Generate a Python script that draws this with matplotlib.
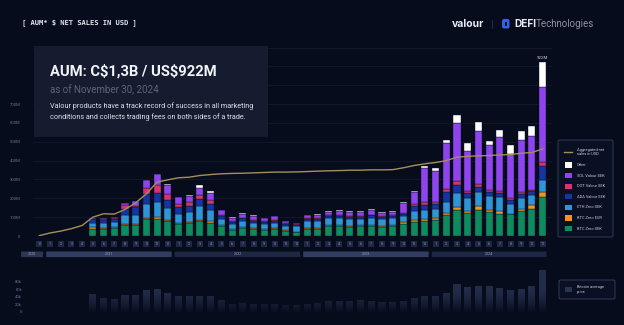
import numpy as np
import matplotlib.pyplot as plt
from matplotlib.patches import FancyBboxPatch, Rectangle

W, H = 624, 325
BG = '#070c1c'
plt.rcParams['font.family'] = ['Roboto', 'DejaVu Sans']
plt.rcParams['text.parse_math'] = False

# ---- data ----
years = [2020, 2021, 2022, 2023, 2024]
months_per_year = [[12], list(range(1, 13)), list(range(1, 13)),
                   list(range(1, 13)), list(range(1, 12))]
month_labels = [str(m) for ms in months_per_year for m in ms]
first_bar = 5  # bars start in May 2021

series_names = ['BTC Zero SEK', 'BTC Zero EUR', 'ETH Zero SEK', 'ADA Valour SEK',
                'DOT Valour SEK', 'SOL Valour SEK', 'Other']
series_colors = ['#0e8c60', '#f0961e', '#2e95d6', '#1634a2', '#d6336f', '#8f45ee', '#ffffff']

btc_zero_sek = [39, 39, 44, 60, 60, 88, 92, 78,
                65, 69, 78, 71, 53, 34, 42, 37, 34, 37, 26, 19,
                37, 37, 53, 53, 48, 51, 53, 48, 51, 65, 74, 79,
                83, 109, 136, 123, 139, 127, 118, 115, 130, 145, 206]
btc_zero_eur = [7, 5, 5, 4, 5, 7, 7, 7,
                5, 5, 7, 7, 5, 4, 5, 5, 4, 4, 4, 4,
                5, 5, 5, 5, 5, 5, 7, 5, 5, 7, 10, 9,
                10, 14, 18, 12, 18, 11, 14, 4, 14, 18, 30]
eth_zero_sek = [23, 25, 26, 46, 44, 76, 79, 63,
                48, 53, 72, 62, 34, 25, 34, 28, 25, 28, 25, 28,
                35, 37, 35, 37, 37, 35, 37, 35, 37, 34, 51, 51,
                48, 60, 76, 65, 76, 72, 76, 53, 56, 53, 63]
ada_valour_sek = [19, 18, 16, 35, 44, 53, 51, 44,
                  35, 32, 41, 32, 14, 12, 12, 12, 12, 12, 9, 7,
                  12, 12, 14, 12, 12, 12, 12, 12, 12, 12, 26, 28,
                  28, 49, 39, 26, 28, 23, 21, 18, 25, 21, 71]
dot_valour_sek = [2, 3, 5, 19, 7, 30, 44, 32,
                  18, 19, 21, 21, 7, 5, 5, 5, 5, 5, 5, 4,
                  5, 5, 5, 7, 5, 5, 5, 5, 5, 5, 8, 16,
                  14, 18, 21, 12, 14, 12, 11, 9, 11, 9, 25]
sol_valour_sek = [5, 5, 7, 12, 25, 44, 56, 49,
                  35, 34, 37, 35, 23, 18, 21, 18, 14, 18, 9, 7,
                  16, 18, 14, 21, 19, 21, 26, 18, 19, 53, 63, 176,
                  164, 243, 309, 213, 284, 238, 287, 236, 273, 287, 393]
other = [0, 0, 0, 0, 0, 0, 0, 4,
         0, 3, 12, 10, 3, 3, 4, 4, 3, 4, 3, 2,
         4, 4, 4, 4, 4, 4, 4, 4, 4, 7, 9, 14,
         14, 18, 44, 44, 48, 23, 37, 49, 49, 51, 134]

aggregated = [2, 16, 26, 39, 56, 100, 118, 116, 141, 176, 224, 286, 298,
              309, 312, 321, 326, 330, 332, 333, 335, 337, 339, 339, 340,
              342, 344, 346, 347, 349, 349, 351, 351, 352, 362, 374, 383,
              390, 400, 418, 423, 425, 427, 430, 432, 439, 443, 462]

btc_price = [46, 36, 34, 44, 45, 57, 60, 49,
             41, 41, 42, 41, 31, 20, 23, 20, 20, 20, 18, 17,
             20, 23, 28, 29, 28, 30, 29, 27, 27, 29, 36, 42,
             42, 50, 73, 67, 69, 69, 62, 58, 60, 68, 111]

series = [btc_zero_sek, btc_zero_eur, eth_zero_sek, ada_valour_sek,
          dot_valour_sek, sol_valour_sek, other]

# ---- layout helpers (pixel -> figure fraction) ----
X0, STEP = 39.3, 10.71
Y0, PPM = 236.0, 0.1885  # px of zero, px per M
AX_L, AX_R, AX_T = 33, 552, 45

def xlim_for(l, r):
    return ((l - X0) / STEP, (r - X0) / STEP)

fig = plt.figure(figsize=(W / 100, H / 100), dpi=100, facecolor=BG)

# ---- main chart ----
ax = fig.add_axes([AX_L / W, 1 - Y0 / H, (AX_R - AX_L) / W, (Y0 - AX_T) / H])
ax.set_facecolor('none')
ax.set_xlim(*xlim_for(AX_L, AX_R))
ax.set_ylim(0, (Y0 - AX_T) / PPM)
for v in range(0, 1001, 100):
    ax.axhline(v, color='#121a2e', lw=0.6, zorder=0)

x = np.arange(first_bar, len(month_labels))
bottom = np.zeros(len(x))
for vals, name, col in zip(series, series_names, series_colors):
    ax.bar(x, vals, 0.66, bottom=bottom, color=col, edgecolor='#0a1020',
           linewidth=0.3, zorder=2)
    bottom += np.array(vals)
ax.plot(np.arange(len(aggregated)), aggregated, color='#a58e59', lw=1.0, zorder=3)
ax.text(x[-1], bottom[-1] + 12, f'{bottom[-1]:.0f}M', ha='center', va='bottom',
        fontsize=3.2, color='#c5cad6')

ax.set_yticks(range(0, 701, 100))
ax.set_yticklabels(['0'] + [f'{v}M' for v in range(100, 701, 100)],
                   fontsize=3, color='#6a7290')
ax.tick_params(axis='y', length=0, pad=9)
ax.set_xticks([])
for s in ax.spines.values():
    s.set_visible(False)

# month boxes and year bands below the axis
bw, bh = 6 / STEP, 6.7 / PPM
mc = -(244 - Y0) / PPM
for i, lab in enumerate(month_labels):
    ax.add_patch(Rectangle((i - bw / 2, mc - bh / 2), bw, bh,
                           facecolor='#1e2845', edgecolor='none', clip_on=False))
    ax.text(i, mc, lab, ha='center', va='center', fontsize=2.6,
            color='#8c95b2', clip_on=False)

yh = 5.6 / PPM
yc = (254.3 - Y0) / PPM
start = 0
year_cols = ['#2b3554', '#323e61', '#1d2643', '#323e61', '#1d2643']
for yr, ms, col in zip(years, months_per_year, year_cols):
    a, b = start, start + len(ms) - 1
    left = a - 0.36 if len(ms) > 1 else a - 1.7
    ax.add_patch(FancyBboxPatch((left, -yc - yh / 2), b + 0.36 - left, yh,
                                boxstyle='round,pad=0,rounding_size=0.3',
                                mutation_aspect=1 / STEP * 10,
                                facecolor=col, edgecolor='none', clip_on=False))
    ax.text((left + b + 0.36) / 2, -yc, str(yr), ha='center', va='center',
            fontsize=2.6, color='#9aa2bd', clip_on=False)
    start += len(ms)

# ---- bitcoin price panel ----
BY0, BPPK = 311.7, 7.5 / 20  # px of zero, px per k
axb = fig.add_axes([AX_L / W, 1 - BY0 / H, (AX_R - AX_L) / W, (BY0 - 262) / H])
axb.set_facecolor('none')
axb.set_xlim(*xlim_for(AX_L, AX_R))
top_k = (BY0 - 262) / BPPK
axb.set_ylim(0, top_k)
axb.bar(x, btc_price, 0.66, color='#222b48', zorder=1)
grad = np.zeros((100, 2, 4))
grad[..., :3] = np.array([7, 12, 28]) / 255
grad[..., 3] = np.linspace(0.95, 0, 100)[:, None] ** 1.5
axb.imshow(grad, extent=(*axb.get_xlim(), 0, 60), origin='lower', aspect='auto', zorder=2)
axb.set_ylim(0, top_k)
axb.set_yticks(range(0, 81, 20))
axb.set_yticklabels(['0', '20k', '40k', '60k', '80k'], fontsize=3, color='#6a7290')
axb.tick_params(axis='y', length=0, pad=8)
axb.set_xticks([])
for s in axb.spines.values():
    s.set_visible(False)

# ---- overlay: header, info box, legends ----
ov = fig.add_axes([0, 0, 1, 1], zorder=5)
ov.set_xlim(0, W)
ov.set_ylim(H, 0)
ov.axis('off')
ov.set_facecolor('none')

ov.text(22, 23, '[ AUM* $ NET SALES IN USD ]', fontsize=5.1, fontweight='bold',
        family='DejaVu Sans Mono', color='#dfe3ec', va='center')

ov.add_patch(Rectangle((34, 46), 234, 91, facecolor='#161d32', edgecolor='none', alpha=0.95))
ov.text(50, 71, 'AUM: C$1,3B / US$922M', fontsize=10.6, fontweight='bold',
        color='#f2f4f8', va='center')
ov.text(50, 89.5, 'as of November 30, 2024', fontsize=7, color='#5d6579', va='center')
ov.text(50, 106, 'Valour products have a track record of success in all marketing',
        fontsize=5.2, color='#dde1ea', va='center')
ov.text(50, 117, 'conditions and collects trading fees on both sides of a trade.',
        fontsize=5.2, color='#dde1ea', va='center')

# logos
ov.text(452, 24, 'valour', fontsize=7.5, fontweight='bold', family='Inter',
        color='#e8ebf2', va='center')
ov.plot([492, 492], [20, 28], color='#333b55', lw=0.5)
ov.add_patch(FancyBboxPatch((502, 19), 7.5, 9.5, boxstyle='round,pad=0,rounding_size=2',
                            facecolor='#2f63e6', edgecolor='none'))
ov.add_patch(Rectangle((504.5, 21.8), 2.6, 3.8, facecolor=BG, edgecolor='none'))
ov.text(514.5, 24, 'DEFI', fontsize=7.3, fontweight='bold', family='Inter',
        color='#e8ebf2', va='center')
ov.text(535.5, 24, 'Technologies', fontsize=7, family='Roboto',
        color='#8d93a3', va='center')

# legend for stacked bars
ov.add_patch(FancyBboxPatch((558, 140), 55, 97, boxstyle='round,pad=0,rounding_size=1.5',
                            facecolor='#0a1023', edgecolor='#39415e', lw=0.6))
ov.plot([564, 572], [152, 152], color='#a58e59', lw=1.0)
ov.text(577, 152, 'Aggregated net\nsales in USD', fontsize=2.9, color='#c6cbd8',
        va='center', linespacing=1.1)
for k, (name, col) in enumerate(zip(series_names[::-1], series_colors[::-1])):
    yy = 165 + k * 10.6
    ov.add_patch(Rectangle((564.5, yy - 2.6), 7, 5.2, facecolor=col, edgecolor='none'))
    ov.text(577, yy, name, fontsize=2.9, color='#c6cbd8', va='center')

# legend for bitcoin panel
ov.add_patch(FancyBboxPatch((559, 280), 56, 19, boxstyle='round,pad=0,rounding_size=1.5',
                            facecolor='#0a1023', edgecolor='#39415e', lw=0.6))
ov.add_patch(Rectangle((564.5, 287), 7, 5, facecolor='#2a3352', edgecolor='none'))
ov.text(577, 289.5, 'Bitcoin average\nprice', fontsize=2.9, color='#c6cbd8',
        va='center', linespacing=1.1)

fig.savefig('out.png', dpi=100, facecolor=BG)
